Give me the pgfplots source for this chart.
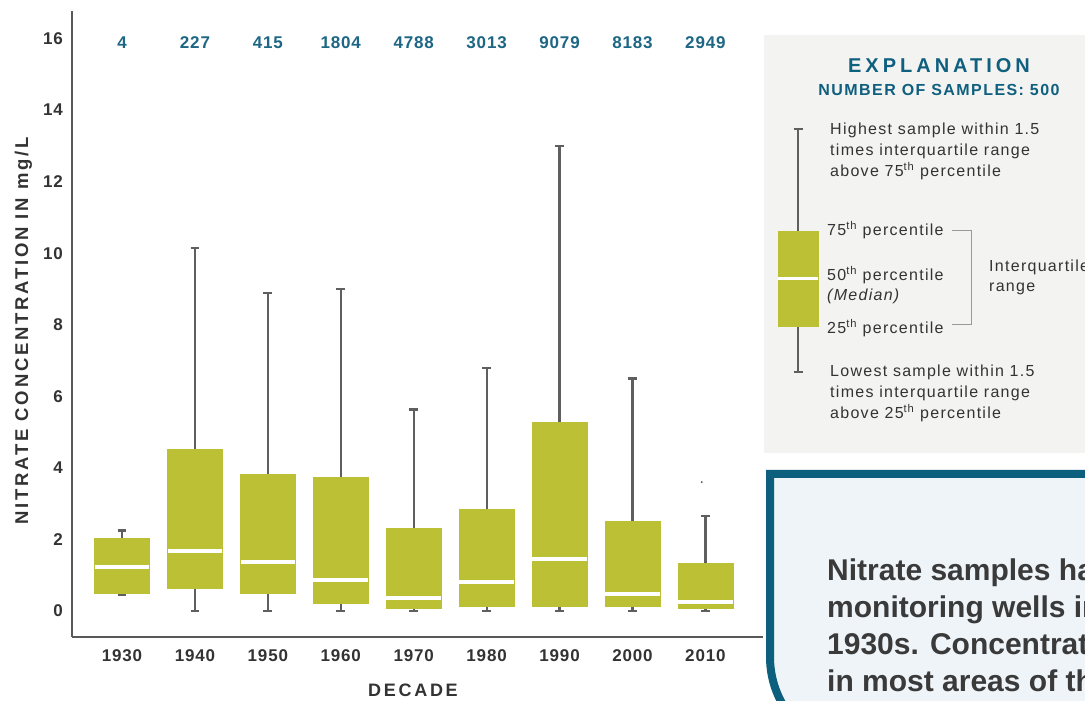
\documentclass[border=0pt]{standalone}
\usepackage{fontspec}
\setmainfont{Liberation Sans}
\newfontfamily\spacedA[LetterSpace=15]{Liberation Sans}
\newfontfamily\spacedB[LetterSpace=20]{Liberation Sans}
\newfontfamily\spacedC[LetterSpace=9]{Liberation Sans}
\newfontfamily\bodyf[LetterSpace=8]{Liberation Sans}
\newfontfamily\numf[LetterSpace=5]{Liberation Sans}
\usepackage{pgfplots}
\pgfplotsset{compat=1.18}
\usepgfplotslibrary{statistics}
\usepackage{pgfplotstable}

\definecolor{boxc}{HTML}{BCC035}
\definecolor{whisk}{HTML}{5F5F5F}
\definecolor{axline}{HTML}{585858}
\definecolor{ticktext}{HTML}{333333}
\definecolor{countc}{HTML}{1D6684}
\definecolor{explc}{HTML}{0F5F7F}
\definecolor{panelbg}{HTML}{F3F3F2}
\definecolor{borderc}{HTML}{0C5F7D}
\definecolor{boxbg}{HTML}{EEF4F8}
\definecolor{bodyc}{HTML}{3A3A3A}

\pgfplotstableread{
pos lw   q1   med  q3   uw
0   0.45 0.50 1.22 2.03 2.25
1   0.00 0.64 1.68 4.52 10.15
2   0.00 0.50 1.38 3.82 8.88
3   0.00 0.22 0.86 3.73 9.00
4   0.00 0.08 0.36 2.30 5.63
5   0.00 0.14 0.82 2.83 6.80
6   0.00 0.14 1.44 5.27 13.00
7   0.00 0.14 0.48 2.52 6.50
8   0.00 0.08 0.26 1.34 2.66
}\boxdata

\pgfplotsset{
  boxplot/draw direction=y,
  boxplot/every whisker/.style={draw=whisk, line width=2.2pt},
  boxplot/every median/.style={draw=white, line width=4pt},
  boxplot/every box/.style={draw=boxc, fill=boxc, line width=0.5pt},
}

\begin{document}
\begin{tikzpicture}[x=1pt,y=1pt]
\useasboundingbox (0,0) rectangle (1085,701);
\clip (0,0) rectangle (1085,701);
\fill[white] (0,0) rectangle (1085,701);

% explanation panel background
\fill[panelbg] (764,666) rectangle (1090,248);

% bottom text box
\filldraw[draw=borderc, fill=boxbg, line width=8pt]
  (1300,227) -- (770,227) -- (770,44) arc[start angle=180, end angle=270, radius=95] -- (1300,-51) -- cycle;
\begin{scope}[font=\bfseries\fontsize{30}{30}\selectfont, text=bodyc]
\node[anchor=base west, inner sep=0] at (827,120) {Nitrate samples have been};
\node[anchor=base west, inner sep=0] at (827,83) {monitoring wells in the region};
\node[anchor=base west, inner sep=0] at (827,46) {1930s. Concentrations have};
\node[anchor=base west, inner sep=0] at (827,9) {in most areas of the region};
\end{scope}

\begin{axis}[
  scale only axis,
  anchor=south west, at={(72pt,64pt)},
  width=691pt, height=626pt,
  xmin=-0.686, xmax=8.79,
  ymin=-0.727, ymax=16.77,
  axis x line*=bottom, axis y line*=left,
  axis line style={draw=axline, line width=2.5pt},
  major tick length=0pt,
  xtick={0,1,2,3,4,5,6,7,8},
  xticklabels={1930,1940,1950,1960,1970,1980,1990,2000,2010},
  ytick={0,2,4,6,8,10,12,14,16},
  yticklabels={0,2,4,6,8,10,12,14,16},
  tick label style={font=\numf\bfseries\fontsize{17}{17}\selectfont, text=ticktext, inner sep=0pt},
  yticklabel style={anchor=east, xshift=-9pt},
  xticklabel style={anchor=north, yshift=-12pt},
  boxplot/box extend=0.75,
  boxplot/whisker extend=0.12,
  clip=false,
]
\pgfplotsinvokeforeach{0,...,8}{
  \pgfplotstablegetelem{#1}{lw}\of\boxdata \let\vlw\pgfplotsretval
  \pgfplotstablegetelem{#1}{q1}\of\boxdata \let\vqa\pgfplotsretval
  \pgfplotstablegetelem{#1}{med}\of\boxdata \let\vmed\pgfplotsretval
  \pgfplotstablegetelem{#1}{q3}\of\boxdata \let\vqc\pgfplotsretval
  \pgfplotstablegetelem{#1}{uw}\of\boxdata \let\vuw\pgfplotsretval
  \edef\tmp{\noexpand\addplot[draw=boxc, fill=boxc,
    boxplot prepared={draw position=#1,
      lower whisker=\vlw, lower quartile=\vqa, median=\vmed,
      upper quartile=\vqc, upper whisker=\vuw}] coordinates {};}
  \tmp
}
\addplot[only marks, mark=*, mark size=0.7pt, color=whisk] coordinates {(7.95,3.6)};
\foreach \i/\n in {0/4,1/227,2/415,3/1804,4/4788,5/3013,6/9079,7/8183,8/2949}{
  \edef\tmp{\noexpand\node[anchor=base, inner sep=0, font=\noexpand\numf\noexpand\bfseries\noexpand\fontsize{17}{17}\noexpand\selectfont, text=countc] at (axis cs:\i,15.71) {\n};}
  \tmp
}
\end{axis}

% axis titles
\node[rotate=90, anchor=base, inner sep=0, text=ticktext, font=\spacedA\bfseries\fontsize{18.5}{18.5}\selectfont] at (28,370) {NITRATE CONCENTRATION IN mg/L};
\node[anchor=base, inner sep=0, text=ticktext, font=\spacedA\bfseries\fontsize{18}{18}\selectfont] at (413,4) {DECADE};

% explanation
\node[anchor=base, inner sep=0, text=explc, font=\spacedB\bfseries\fontsize{20}{20}\selectfont] at (939,628) {EXPLANATION};
\node[anchor=base, inner sep=0, text=explc, font=\spacedC\bfseries\fontsize{16}{16}\selectfont] at (939,605) {NUMBER OF SAMPLES: 500};

\begin{axis}[
  hide axis, scale only axis,
  anchor=south west, at={(758pt,300pt)},
  width=80pt, height=300pt,
  xmin=-1, xmax=1, ymin=0, ymax=3,
  clip=false,
  boxplot/box extend=1,
  boxplot/whisker extend=0.225,
  boxplot/every median/.style={draw=white, line width=3pt},
  boxplot/every whisker/.style={draw=whisk, line width=2pt},
]
\addplot[draw=boxc, fill=boxc, boxplot prepared={draw position=0,
  lower whisker=0.29, lower quartile=0.75, median=1.22,
  upper quartile=1.70, upper whisker=2.72}] coordinates {};
\end{axis}

\begin{scope}[font=\bodyf\fontsize{16}{16}\selectfont, text=ticktext]
\node[anchor=base west, inner sep=0] at (830,566) {Highest sample within 1.5};
\node[anchor=base west, inner sep=0] at (830,545) {times interquartile range};
\node[anchor=base west, inner sep=0] at (830,524) {above 75\textsuperscript{th} percentile};
\node[anchor=base west, inner sep=0] at (827,465) {75\textsuperscript{th} percentile};
\node[anchor=base west, inner sep=0] at (827,420) {50\textsuperscript{th} percentile};
\node[anchor=base west, inner sep=0] at (827,400) {\itshape (Median)};
\node[anchor=base west, inner sep=0] at (827,367) {25\textsuperscript{th} percentile};
\node[anchor=base west, inner sep=0] at (989,429) {Interquartile};
\node[anchor=base west, inner sep=0] at (989,409) {range};
\node[anchor=base west, inner sep=0] at (830,324) {Lowest sample within 1.5};
\node[anchor=base west, inner sep=0] at (830,303) {times interquartile range};
\node[anchor=base west, inner sep=0] at (830,282) {above 25\textsuperscript{th} percentile};
\end{scope}
\draw[color=gray!80, line width=1pt] (952,470) -- (971,470) -- (971,376) -- (952,376);
\end{tikzpicture}
\end{document}
